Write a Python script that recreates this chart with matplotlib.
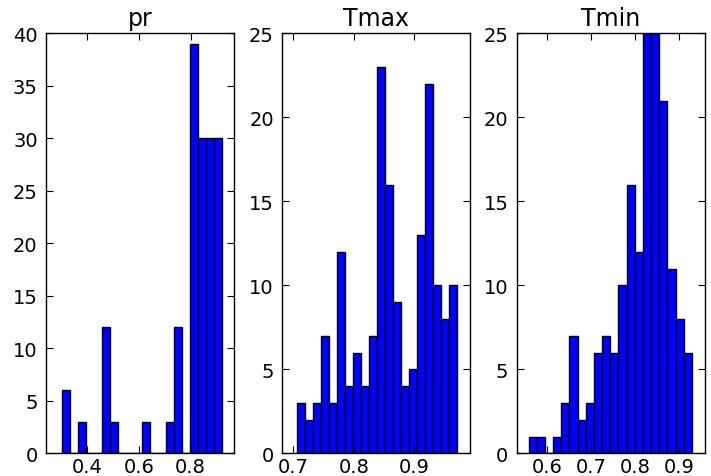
import numpy as np
import matplotlib
matplotlib.use("Agg")
import matplotlib.pyplot as plt

# histogram counts (20 bins each)
titles = ["pr", "Tmax", "Tmin"]
pr_counts = [6, 0, 3, 0, 0, 12, 3, 0, 0, 0, 3, 0, 0, 3, 12, 0, 39, 30, 30, 30]
tmax_counts = [3, 2, 3, 7, 3, 12, 4, 6, 4, 7, 23, 16, 9, 4, 5, 13, 22, 10, 8, 10]
tmin_counts = [1, 1, 0, 1, 3, 7, 2, 3, 6, 7, 6, 10, 16, 12, 25, 25, 21, 11, 8, 6]
# data range (min, max) of each variable
pr_range = (0.301, 0.920)
tmax_range = (0.7056, 0.970)
tmin_range = (0.557, 0.929)

counts = [pr_counts, tmax_counts, tmin_counts]
ranges = [pr_range, tmax_range, tmin_range]
xlims = [(0.240, 0.968), (0.682, 0.992), (0.530, 0.958)]
ylims = [40, 25, 25]
xticks = [[0.4, 0.6, 0.8], [0.7, 0.8, 0.9], [0.6, 0.7, 0.8, 0.9]]

fig = plt.figure(figsize=(7.11, 4.77), dpi=100)
lefts = [0.0647, 0.3970, 0.7267]

for i in range(3):
    ax = fig.add_axes([lefts[i], 0.0472, 0.2644, 0.8805])
    edges = np.linspace(ranges[i][0], ranges[i][1], len(counts[i]) + 1)
    centers = (edges[:-1] + edges[1:]) / 2
    ax.hist(centers, bins=edges, weights=counts[i],
            facecolor="#0000ff", edgecolor="black", linewidth=1)
    ax.set_xlim(*xlims[i])
    ax.set_ylim(0, ylims[i])
    ax.set_xticks(xticks[i])
    ax.set_xticklabels([f"{t:.1f}" for t in xticks[i]])
    ax.set_yticks(range(0, ylims[i] + 1, 5))
    ax.tick_params(direction="in", top=True, right=True, length=5,
                   labelsize=14, width=0.8)
    ax.tick_params(axis="y", pad=6)
    ax.tick_params(axis="x", pad=2.5)
    ax.set_title(titles[i], fontsize=17, pad=6)
    for s in ax.spines.values():
        s.set_linewidth(1)

fig.savefig("out.png", dpi=100)
